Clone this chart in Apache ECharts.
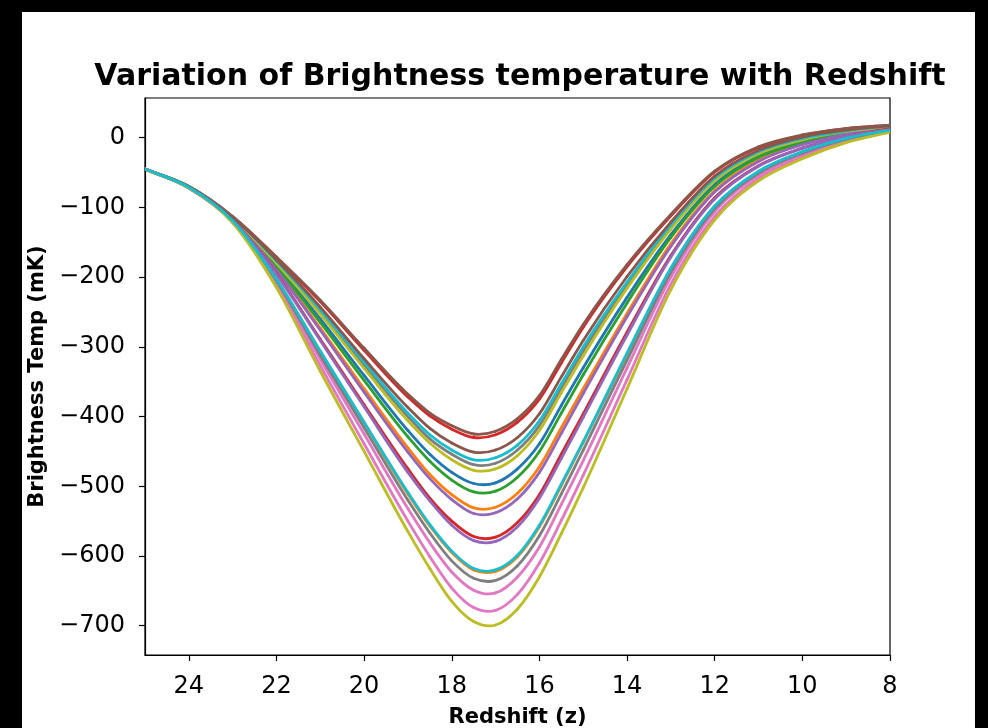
<!DOCTYPE html>
<html>
<head>
<meta charset="utf-8">
<script src="https://cdn.jsdelivr.net/npm/echarts@6/dist/echarts.min.js"></script>
<style>
html,body{margin:0;padding:0;background:#000;}
#chart{width:988px;height:728px;}
</style>
</head>
<body>
<div id="chart"></div>
<script>
// Redshift sample points (x axis)
const redshift = [25, 24, 23, 22, 21, 20, 19, 18.5, 18, 17.5, 17, 16.5, 16, 15.5, 15, 14, 13, 12, 11, 10, 9, 8];

// Brightness temperature curves (mK)
const tbBrownA  = [-45,-70,-113,-171,-233,-302,-368,-395,-413,-425,-421,-403,-370,-318,-268,-182,-110,-48,-13,4,13,18];
const tbRedA    = [-45,-70,-113,-172,-235,-305,-372,-399,-418,-430,-426,-408,-375,-323,-272,-185,-112,-49,-14,3,13,18];
const tbBrownB  = [-45,-70,-114,-175,-243,-317,-387,-417,-438,-451,-448,-430,-396,-343,-291,-199,-121,-55,-18,1,11,17];
const tbCyanA   = [-45,-70,-114,-177,-247,-322,-395,-426,-448,-462,-459,-441,-406,-353,-300,-207,-125,-58,-20,-1,10,17];
const tbGrayA   = [-45,-70,-114,-178,-250,-326,-400,-432,-454,-469,-467,-448,-413,-359,-306,-211,-128,-60,-21,-2,10,16];
const tbOliveA  = [-45,-70,-115,-180,-253,-331,-406,-438,-462,-477,-475,-456,-420,-366,-313,-216,-131,-62,-23,-3,9,16];
const tbBlueA   = [-45,-71,-115,-183,-260,-341,-420,-454,-480,-496,-495,-475,-439,-384,-330,-229,-139,-67,-26,-5,8,15];
const tbGreenA  = [-45,-71,-116,-185,-265,-348,-429,-464,-491,-508,-507,-487,-450,-395,-340,-237,-143,-70,-28,-7,7,15];
const tbOrangeA = [-45,-71,-117,-188,-273,-360,-445,-483,-512,-531,-530,-510,-472,-416,-360,-252,-152,-76,-32,-9,5,14];
const tbPurpleA = [-45,-71,-117,-190,-276,-365,-451,-489,-519,-539,-538,-518,-480,-424,-367,-257,-156,-78,-34,-10,5,14];
const tbRedB    = [-45,-71,-118,-195,-289,-383,-475,-517,-550,-572,-573,-552,-512,-454,-396,-279,-169,-86,-40,-15,2,13];
const tbPurpleB = [-45,-71,-118,-196,-291,-386,-480,-521,-556,-578,-579,-558,-517,-460,-401,-283,-171,-88,-41,-15,2,12];
const tbCyanB   = [-45,-71,-119,-203,-306,-408,-509,-555,-593,-618,-620,-599,-556,-497,-436,-309,-187,-98,-48,-20,-1,11];
const tbOrangeB = [-45,-71,-120,-203,-307,-409,-511,-557,-595,-620,-622,-601,-558,-499,-437,-311,-188,-99,-49,-21,-2,11];
const tbGrayB   = [-45,-72,-120,-205,-312,-416,-520,-567,-607,-632,-635,-614,-571,-511,-448,-319,-193,-102,-51,-22,-2,10];
const tbPinkA   = [-45,-72,-121,-208,-318,-425,-532,-581,-623,-649,-653,-630,-587,-526,-463,-330,-200,-106,-54,-24,-4,10];
const tbPinkB   = [-45,-72,-121,-212,-327,-439,-550,-601,-646,-674,-678,-655,-610,-549,-484,-347,-210,-113,-58,-27,-6,9];
const tbOliveB  = [-45,-72,-122,-215,-335,-450,-565,-618,-665,-694,-699,-676,-630,-568,-502,-360,-218,-118,-62,-30,-7,8];

// tick labels
const xTicks = [24, 22, 20, 18, 16, 14, 12, 10, 8];
const yTicks = [0, -100, -200, -300, -400, -500, -600, -700];

// matplotlib tab10 colours, drawing order
const curves = [
  [tbBlueA,   '#1f77b4'],
  [tbOrangeA, '#ff7f0e'],
  [tbGreenA,  '#2ca02c'],
  [tbRedA,    '#d62728'],
  [tbPurpleA, '#9467bd'],
  [tbBrownA,  '#8c564b'],
  [tbPinkA,   '#e377c2'],
  [tbGrayA,   '#7f7f7f'],
  [tbOliveA,  '#bcbd22'],
  [tbCyanA,   '#17becf'],
  [tbOrangeB, '#ff7f0e'],
  [tbRedB,    '#d62728'],
  [tbPurpleB, '#9467bd'],
  [tbBrownB,  '#8c564b'],
  [tbPinkB,   '#e377c2'],
  [tbGrayB,   '#7f7f7f'],
  [tbOliveB,  '#bcbd22'],
  [tbCyanB,   '#17becf']
];

const chart = echarts.init(document.getElementById('chart'), null, {renderer: 'canvas'});
const FONT = 'DejaVu Sans';
const minus = v => (v < 0 ? '\u2212' + Math.abs(v) : String(v));

// smooth curve through the data points: each segment is a cubic Hermite
// (bezier) piece whose points are all placed with the axes' own scales (api.coord)
function curveSeries(vals, color, idx) {
  const pts = redshift.map((z, k) => [z, vals[k]]);
  const n = pts.length;
  const slope = k => {
    if (k === 0) return (pts[1][1] - pts[0][1]) / (pts[1][0] - pts[0][0]);
    if (k === n - 1) return (pts[n - 1][1] - pts[n - 2][1]) / (pts[n - 1][0] - pts[n - 2][0]);
    const h0 = pts[k][0] - pts[k - 1][0], h1 = pts[k + 1][0] - pts[k][0];
    const d0 = (pts[k][1] - pts[k - 1][1]) / h0, d1 = (pts[k + 1][1] - pts[k][1]) / h1;
    return (d0 * h1 + d1 * h0) / (h0 + h1);
  };
  return {
    type: 'custom',
    name: 'curve' + (idx + 1),
    coordinateSystem: 'cartesian2d',
    clip: true,
    silent: true,
    z: 2,
    encode: {x: 0, y: 1},
    data: pts.slice(0, n - 1),
    renderItem: (params, api) => {
      const k = params.dataIndex;
      const a = pts[k], b = pts[k + 1];
      const h = b[0] - a[0];
      const m0 = slope(k), m1 = slope(k + 1);
      const P0 = api.coord(a);
      const P3 = api.coord(b);
      const P1 = api.coord([a[0] + h / 3, a[1] + m0 * h / 3]);
      const P2 = api.coord([b[0] - h / 3, b[1] - m1 * h / 3]);
      return {
        type: 'bezierCurve',
        shape: {x1: P0[0], y1: P0[1], x2: P3[0], y2: P3[1],
                cpx1: P1[0], cpy1: P1[1], cpx2: P2[0], cpy2: P2[1]},
        style: {stroke: color, lineWidth: 2.8, fill: 'none', lineCap: 'round'}
      };
    }
  };
}

const option = {
  animation: false,
  backgroundColor: '#000',
  graphic: [{
    type: 'rect', z: -100, silent: true,
    shape: {x: 22, y: 12, width: 953, height: 716},
    style: {fill: '#fff'}
  }],
  title: {
    text: 'Variation of Brightness temperature with Redshift',
    left: 515, top: 57, textAlign: 'center',
    textStyle: {fontFamily: FONT, fontWeight: 'bold', fontSize: 30, color: '#000'}
  },
  grid: {
    left: 145, right: 98, top: 98, bottom: 73,
    outerBoundsMode: 'none', containLabel: false,
    show: true, borderColor: '#000', borderWidth: 1.2, backgroundColor: 'transparent'
  },
  xAxis: {
    type: 'value', min: 8, max: 25, interval: 2, inverse: true,
    name: 'Redshift (z)', nameLocation: 'middle', nameGap: 52,
    nameTextStyle: {fontFamily: FONT, fontWeight: 'bold', fontSize: 21, color: '#000'},
    axisLine: {show: true, onZero: false, lineStyle: {color: '#000', width: 1.2}},
    axisTick: {show: true, length: 6, lineStyle: {color: '#000', width: 1.2}},
    axisLabel: {
      fontFamily: FONT, fontSize: 24, color: '#000', margin: 20,
      showMaxLabel: false,
      formatter: v => (xTicks.indexOf(v) >= 0 ? String(v) : '')
    },
    splitLine: {show: false}
  },
  yAxis: {
    type: 'value', min: -742, max: 57, splitNumber: 8,
    name: 'Brightness Temp (mK)', nameLocation: 'middle', nameGap: 96,
    nameTextStyle: {fontFamily: FONT, fontWeight: 'bold', fontSize: 21, color: '#000'},
    axisLine: {show: true, onZero: false, lineStyle: {color: '#000', width: 1.2}},
    axisTick: {show: true, length: 6, lineStyle: {color: '#000', width: 1.2}},
    axisLabel: {
      fontFamily: FONT, fontSize: 24, color: '#000', margin: 20,
      showMinLabel: false, showMaxLabel: false,
      formatter: v => (yTicks.indexOf(v) >= 0 ? minus(v) : '')
    },
    splitLine: {show: false}
  },
  series: curves.map(([vals, color], i) => curveSeries(vals, color, i))
};
chart.setOption(option);
</script>
</body>
</html>
